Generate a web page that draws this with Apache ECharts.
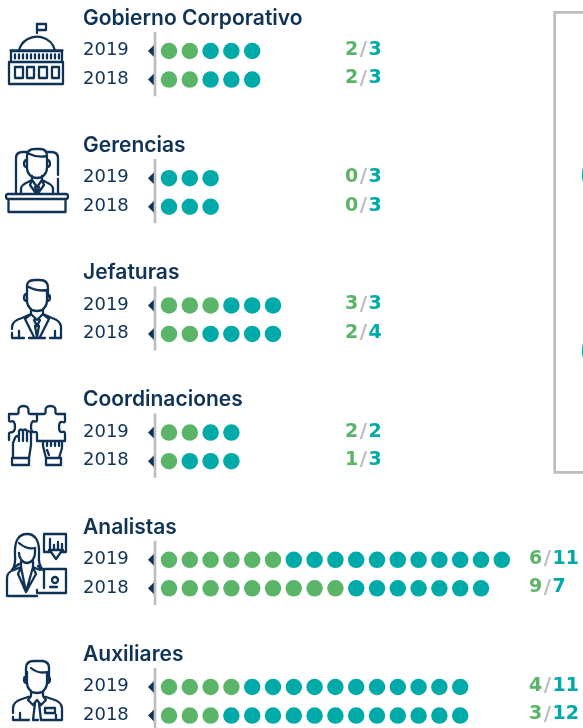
<!DOCTYPE html>
<html><head><meta charset="utf-8">
<style>html,body{margin:0;padding:0;background:#fff}#c{width:583px;height:728px;overflow:hidden}</style>
<script src="https://cdn.jsdelivr.net/npm/echarts@6/dist/echarts.min.js"></script>
</head><body><div id="c"></div>
<script>
const groups = ['Gobierno Corporativo','Gerencias','Jefaturas','Coordinaciones','Analistas','Auxiliares'];
const years = ['2019','2018'];
const green2019 = [2,0,3,2,6,4];
const teal2019  = [3,3,3,2,11,11];
const green2018 = [2,0,2,1,9,3];
const teal2018  = [3,3,4,3,7,12];

const NAVY='#0f3356', GREEN='#5bb568', TEAL='#00aaa8', GREY='#bdbdbd';
const STEP=20.8, X0=169, Y0=51, GSTEP=127.2, ROW=0.2245;
const px=p=>(p-X0)/STEP;
const greens=[green2019,green2018], teals=[teal2019,teal2018];

const gDots=[],tDots=[],arrows=[],yearLab=[],valLab=[],titleLab=[],rule=[];
groups.forEach((name,g)=>{
  titleLab.push({value:[px(83),g-32.5/GSTEP],name});
  rule.push([px(155),g-0.15],[px(155),g+0.355],['-','-']);
  years.forEach((yr,r)=>{
    const y=g+r*ROW, a=greens[r][g], b=teals[r][g];
    for(let i=0;i<a;i++) gDots.push([i,y]);
    for(let i=a;i<a+b;i++) tDots.push([i,y]);
    arrows.push([px(151),y]);
    yearLab.push({value:[px(83),y-0.5/GSTEP],name:yr});
    valLab.push({value:[g>=4?px(529):px(345),y-1/GSTEP],name:`{g|${a}}{s|/}{t|${b}}`});
  });
});
const labelSeries=(data,label)=>({type:'scatter',data,symbolSize:1,itemStyle:{color:'transparent',opacity:1},silent:true,
  label:Object.assign({show:true,position:'inside',align:'left',verticalAlign:'middle',formatter:p=>p.name},label)});

const iconPaths=[
// building
'M9 62H63V84H9Z M11 62V51H62V62 M19 50.5A18.5 18 0 0 1 55 50.5 M10.5 50.5H62.5 M37 33V24H46V30H37 M15 67H23V78H15Z M27 67H34V78H27Z M39 67H47V78H39Z M52 67H59V78H52Z M15 54.5V58.5 M19 54.5V58.5 M23 54.5V58.5 M27 54.5V58.5 M31 54.5V58.5 M35 54.5V58.5 M39 54.5V58.5 M43 54.5V58.5 M47 54.5V58.5 M51 54.5V58.5 M55 54.5V58.5 M59 54.5V58.5',
// manager
'M8 194H66Q68 194 68 196.5Q68 199 66 199H8Q6 199 6 196.5Q6 194 8 194Z M8.5 199V212H65.5V199 M16 193V158Q16 152 23 152H28 M46 152H51Q58 152 58 158V175 M58 179V193 M27 156V168A10 10 0 0 0 47 168V156Q37 158 27 153 M27 163V156Q27 149 35 149H40Q47 149 47 156V163 M27 160Q24 160 24 164Q24 167 27 167 M47 160Q50 160 50 164Q50 167 47 167 M21 193V189Q21 185 28 182L32 180V176 M53 193V189Q53 185 46 182L42 180V176 M32 180L37 187L42 180 M32 180L30 185L35 192 M42 180L44 185L39 192 M35 187L37 193L39 187',
// chief
'M27 290V301A10 10 0 0 0 47 301V290Q37 292 27 286 M27 297V288Q26 280 35 280H40Q48 280 48 288V297 M27 294Q24 294 24 298Q24 301 27 301 M47 294Q50 294 50 298Q50 301 47 301 M12 329V327Q12 321 22 318L31 314V309 M61 338V327Q61 321 52 318L43 314V309 M12 333V338H24 M29 338H45 M50 338H61 M31 314L25 319L34 337 M43 314L49 319L40 337 M31 314L37 320L43 314 M34 320L37 326L40 320 M35 326L37 337L39 326 M19 331V338 M55 331V338',
// coordination
'M9 414H17Q19 414 18.5 411Q18 406 23.5 406Q29 406 28.5 411Q28 414 30 414H37V420Q37 422 35 421.5Q31 420 31 427Q31 433 35 432Q37 431.5 37 434V441 M37 441H65 M37 414H44Q46 414 45.5 411Q45 406 50.5 406Q56 406 55.5 411Q55 414 57 414H65V421Q65 423 62.5 422Q59 421 59 427Q59 433 62.5 432Q65 431 65 434V441 M9 414V420Q9 422 11 421.5Q15 420 15 427Q15 432 11 432.5Q9 432 9 434V440 M13 458V443L15 438 M15 438Q17 434 19 438V441 M19 436V431Q21 428 23 431V441 M23 431Q25 428 27 431V441 M27 432Q29 430 31 433V445L29 458 M12 458H29V465H12Z M43 441V446L46 458 M62 441V448L59 458 M46 458H61V465H46Z M47 443V446 M51 443V446 M55 443V446 M59 443V446 M47 450L49 455',
// analyst
'M19 553A8 10 0 0 0 35 553V548Q27 550 19 543 M12 570Q16 565 15 555Q14 534 27 534Q40 534 39 555Q38 565 43 570L38 566 M15 567L19 564 M7 596V578Q7 572 14 570L21 567V561 M33 561V567L40 570 M8 596H37 M21 567L26 592L33 567 M21 567L18 574L26 592 M33 567L36 574L26 592 M44 534H66V552H61L56 559L51 552H44Z M50 539V549 M54 545V549 M58 542V549 M62 544V549 M49 550H63 M44 569H66V593H37V590 M44 569V588 M52 580A3 3 0 1 0 58 580A3 3 0 1 0 52 580 M50 587H57',
// assistant
'M27 672V683A10 10 0 0 0 47 683V672Q38 674 31 668 M26 680V668Q26 661 34 661H43Q49 662 49 668V680 M27 676Q24 676 24 680Q24 683 27 683 M47 676Q50 676 50 680Q50 683 47 683 M13 713V708Q13 702 22 699L31 696V691 M62 720V708Q62 702 52 699L43 696V691 M13 717V720H29 M33 720H38 M41 720H62 M31 696L28 700L33 705L37 700L41 705L46 700L43 696 M35 703L33 720 M39 703L41 720 M45 708H55V713H45Z M20 713V720 M56 715V720'
];
const graphics=[
  {type:'rect',silent:true,shape:{x:554.7,y:12.3,width:120,height:460},style:{fill:'none',stroke:GREY,lineWidth:2.7}},
  {type:'circle',silent:true,shape:{cx:612,cy:175,r:30},style:{fill:TEAL}},
  {type:'circle',silent:true,shape:{cx:612,cy:351,r:30},style:{fill:TEAL}}
];

const chart=echarts.init(document.getElementById('c'),null,{renderer:'canvas'});
chart.setOption({
  animation:false,
  backgroundColor:'#fff',
  graphic:graphics,
  grid:{left:0,top:0,width:583,height:728},
  xAxis:{type:'value',min:px(0),max:px(583),show:false},
  yAxis:{type:'value',inverse:true,min:-Y0/GSTEP,max:(728-Y0)/GSTEP,show:false},
  series:[
    {type:'custom',silent:true,coordinateSystem:'none',data:iconPaths.map((d,i)=>[i]),
      renderItem:(params)=>({type:'path',shape:{pathData:iconPaths[params.dataIndex]},
        style:{fill:'none',stroke:NAVY,lineWidth:2.3,lineJoin:'round',lineCap:'round'}})},
    {type:'line',data:rule,showSymbol:false,symbol:'none',silent:true,connectNulls:false,lineStyle:{color:GREY,width:2.6}},
    {type:'scatter',data:arrows,symbol:'triangle',symbolSize:[12,6],symbolRotate:90,silent:true,itemStyle:{color:NAVY,opacity:1}},
    {type:'scatter',data:gDots,symbolSize:16.5,silent:true,itemStyle:{color:GREEN,opacity:1}},
    {type:'scatter',data:tDots,symbolSize:16.5,silent:true,itemStyle:{color:TEAL,opacity:1}},
    labelSeries(titleLab,{fontFamily:'Inter',fontWeight:600,fontSize:21,color:NAVY}),
    labelSeries(yearLab,{fontFamily:'DejaVu Sans',fontWeight:'normal',fontSize:18,color:NAVY}),
    labelSeries(valLab,{rich:{
      g:{fontFamily:'DejaVu Sans',fontWeight:'bold',fontSize:19,color:GREEN},
      s:{fontFamily:'DejaVu Sans',fontWeight:'bold',fontSize:20,color:GREY,padding:[0,1.5,0,1.5]},
      t:{fontFamily:'DejaVu Sans',fontWeight:'bold',fontSize:19,color:TEAL}}})
  ]
});
</script></body></html>
